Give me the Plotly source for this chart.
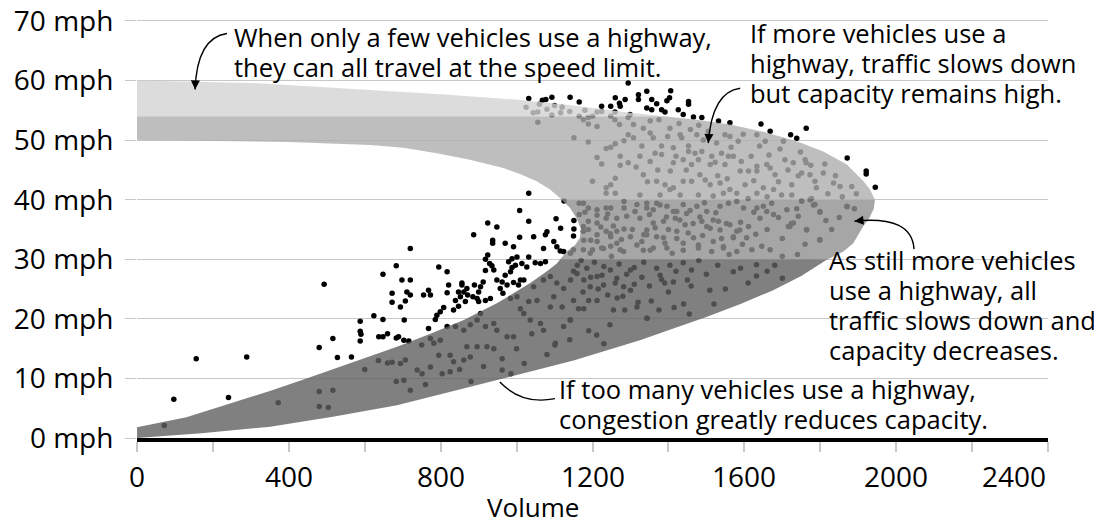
import plotly.graph_objects as go

# ---------------- data ----------------
speed_ticks = [0, 10, 20, 30, 40, 50, 60, 70]
volume_ticks = [0, 400, 800, 1200, 1600, 2000, 2400]
volume_labels = ["0", "400", "800", "1200", "1600", "2000", "2400"]
volume_minor = [0, 200, 400, 600, 800, 1000, 1200, 1400, 1600, 1800, 2000, 2200, 2400]

# outer edge of the speed-volume band (top-left -> nose -> bottom-left)
outer_volume = [0, 300, 614, 800, 1000, 1150, 1299, 1387, 1475, 1562, 1650, 1738, 1808,
                1870, 1914, 1931, 1944, 1941, 1930, 1913, 1887, 1861, 1817, 1750, 1676,
                1590, 1500, 1413, 1325, 1150, 948, 815, 685, 520, 351, 170, 0]
outer_speed = [60, 59.6, 58.4, 57.7, 56.8, 55.8, 54.6, 54.0, 53.4, 52.6, 51.4, 49.8, 48.1,
               45.9, 43.1, 41.7, 40.0, 38.5, 37.0, 35.5, 32.7, 31.3, 29.9, 27.2, 24.8,
               22.5, 20.3, 18.4, 16.4, 13.0, 9.7, 7.6, 5.5, 3.6, 1.9, 0.8, 0]
# inner edge (bottom-left -> tip -> top-left)
inner_volume = [0, 130, 241, 350, 456, 570, 685, 773, 861, 948, 1036, 1080, 1106, 1132,
                1154, 1167, 1169, 1158, 1141, 1114, 1088, 1053, 1009, 965, 877, 790, 702,
                614, 400, 200, 0]
inner_speed = [1.8, 3.5, 5.7, 7.9, 10.2, 12.7, 15.3, 17.5, 19.8, 22.6, 26.0, 28.0, 29.3, 31.3,
               32.4, 33.6, 35.2, 36.9, 38.6, 40.3, 41.7, 43.1, 44.3, 45.3, 46.7, 47.8, 48.7,
               49.2, 49.7, 49.9, 50]

band_limits = [0, 30, 40, 54, 60]
band_colors = ["rgba(96,96,96,0.8)", "rgba(144,144,144,0.8)",
               "rgba(174,174,174,0.8)", "rgba(211,211,211,0.8)"]

# observations outside the band (volume, mph)
outside_obs = [
    (97, 6.5), (156, 13.3), (241, 6.8), (289, 13.6), (493, 25.8), (480, 15.2), (516, 16.7),
    (528, 13.5), (565, 13.6), (588, 19.6), (588, 17.9), (590, 17.4), (588, 16.3), (624, 20.5),
    (648, 19.9), (637, 17.0), (648, 17.0), (660, 17.5), (648, 27.5), (672, 24.3), (672, 22.8),
    (683, 28.9), (683, 16.8),
    (720, 31.8), (887, 34.1), (937, 33.2), (937, 32.7), (970, 32.7), (992, 32.1), (1008, 33.7),
    (1045, 33.8), (1076, 34.1), (1080, 34.6), (1098, 33.0), (1106, 32.1), (1115, 31.4),
    (1124, 31.3), (1150, 33.9), (1071, 31.8), (1076, 29.6), (1063, 29.3), (1049, 29.4),
    (1032, 30.4), (1027, 28.7), (1014, 29.3), (1001, 30.4), (997, 29.0), (988, 30.1),
    (988, 28.6), (979, 29.6), (984, 27.9), (970, 27.3), (962, 26.2), (948, 26.5), (940, 28.2),
    (935, 28.9), (929, 29.3), (924, 30.7), (918, 30.0), (918, 28.1), (912, 26.2), (905, 25.4),
    (900, 24.5), (896, 23.4), (900, 22.9), (885, 23.7), (871, 24.0), (865, 22.9), (861, 24.5),
    (856, 26.0), (852, 23.7), (847, 24.5), (847, 22.1), (839, 23.1), (834, 21.5), (817, 27.9),
    (821, 25.7), (817, 24.4), (808, 21.9), (799, 21.2), (795, 28.7), (790, 20.6), (786, 19.9),
    (773, 24.0), (768, 24.8), (768, 18.4), (755, 24.0), (720, 26.5), (720, 24.0), (711, 24.5),
    (707, 23.0), (704, 19.8), (698, 26.5), (694, 22.0), (689, 17.0), (703, 16.4), (716, 16.3),
    (1010, 26.5), (1019, 26.5), (1005, 25.7), (992, 26.1), (975, 25.7), (957, 25.1), (964, 24.3),
    (931, 23.4), (918, 23.1), (889, 25.7), (869, 25.1), (856, 25.7),
    (1032, 41.1), (1008, 38.2), (924, 36.1), (948, 35.4), (1032, 36.4), (1104, 36.8),
    (1116, 35.2), (1151, 36.5), (1151, 35.1),
    (1032, 57.0), (1068, 56.7), (1077, 56.8), (1093, 57.2), (1141, 57.2), (1165, 56.4),
    (1224, 55.7), (1248, 55.7), (1260, 57.1), (1271, 56.2), (1273, 55.7), (1286, 56.8),
    (1294, 59.6),
    (1321, 57.6), (1343, 58.2), (1321, 56.8), (1356, 56.8), (1369, 56.1), (1396, 56.6),
    (1406, 58.3), (1403, 57.1), (1453, 56.5), (1453, 56.0), (1343, 55.4), (1356, 55.1),
    (1382, 55.1), (1391, 54.7), (1426, 55.1), (1439, 54.3), (1466, 53.9), (1488, 53.8),
    (1532, 53.2), (1562, 52.9), (1644, 52.7), (1668, 51.5), (1763, 52.0), (1738, 50.3),
    (1871, 47.0), (1921, 44.8), (1921, 44.3), (1945, 42.1),
]

# observations inside the band (volume, mph)
inside_obs = [
    (72, 2.1), (372, 5.9), (480, 7.8), (516, 8.0), (480, 5.3), (504, 5.1), (600, 11.5),
    (636, 13.0), (660, 12.6), (672, 12.7), (683, 9.5),
    (1177, 33.2), (1212, 34.1), (1247, 34.3), (1264, 32.7), (1300, 33.8), (1317, 32.4),
    (1335, 34.1), (1352, 31.5), (1142, 31.0), (1194, 31.0), (1229, 31.8), (1282, 31.3),
    (1071, 26.5), (1089, 27.1), (1106, 26.0), (1124, 25.1), (1142, 26.5), (1159, 27.6),
    (1177, 26.5), (1194, 25.4), (1212, 27.1), (1229, 25.7), (1247, 28.2), (1264, 26.8),
    (1282, 25.4), (1300, 28.2), (1317, 22.0), (1344, 20.1), (1212, 23.1), (1177, 21.7),
    (1142, 19.8), (1124, 18.7), (1102, 15.9), (1071, 18.1), (1063, 19.2), (1036, 19.8),
    (1019, 20.9), (1010, 21.7), (1001, 23.7), (984, 23.4), (1045, 25.4), (1054, 23.1),
    (1032, 22.9), (1089, 22.0), (1098, 23.7), (1150, 23.1), (1163, 21.7), (1190, 23.1),
    (1120, 22.0), (992, 17.0), (975, 17.0), (948, 18.1), (940, 19.2), (918, 18.7), (905, 20.9),
    (896, 19.8), (878, 19.0), (861, 18.1), (839, 18.7), (817, 18.7), (799, 16.4), (782, 15.9),
    (773, 16.7), (750, 15.6), (869, 15.3), (896, 15.3), (922, 15.3), (940, 15.0), (962, 13.3),
    (962, 11.4), (913, 12.0), (878, 13.6), (861, 13.1), (834, 12.8), (795, 13.9), (825, 13.9),
    (804, 10.8), (825, 11.1), (773, 11.9), (751, 10.8), (738, 11.4), (707, 13.1), (694, 12.5),
    (720, 8.0), (703, 9.7),
    (1044, 54.6), (1056, 54.7), (1093, 54.2), (1116, 54.6), (1056, 53.0), (1165, 54.0),
    (1176, 53.4), (1189, 53.8), (1200, 54.0), (1189, 52.7), (1212, 52.3), (1212, 54.7),
    (1224, 54.8), (1248, 54.0), (1259, 54.7), (1259, 53.4), (1271, 52.6), (1294, 53.8),
    (1151, 50.4), (1189, 49.7), (1236, 48.6), (1248, 48.8), (1260, 49.4), (1283, 49.9),
    (1294, 50.9), (1212, 47.1), (1224, 46.0), (1273, 47.3), (1273, 45.8), (1294, 46.2),
    (1200, 43.1), (1236, 42.0), (1260, 43.6), (1248, 42.5), (1236, 41.1), (1260, 41.1),
    (1125, 39.8), (1165, 39.4), (1176, 39.4), (1189, 38.6), (1212, 38.3), (1236, 38.6),
    (1248, 38.6), (1283, 39.7), (1165, 37.5), (1189, 36.4), (1212, 37.4), (1212, 36.1),
    (1236, 36.9), (1264, 36.9), (1283, 38.6), (1176, 35.5), (1176, 34.7), (1189, 35.0),
    (1236, 34.7), (1248, 33.8), (1264, 34.7), (1283, 35.1), (1212, 33.0), (1200, 31.6),
    (1224, 31.9), (1248, 32.2), (1176, 31.6), (1150, 31.6), (1273, 31.6),
    (1299, 54.3), (1308, 52.6), (1334, 52.0), (1352, 53.2), (1352, 51.2), (1360, 50.4),
    (1375, 53.4), (1382, 49.0), (1404, 52.0), (1413, 48.7), (1431, 50.9), (1435, 50.4),
    (1453, 49.0), (1453, 48.1), (1475, 50.9), (1488, 48.1), (1480, 52.5), (1514, 47.3),
    (1527, 49.5), (1549, 50.9), (1562, 50.6), (1558, 47.3), (1584, 49.8), (1633, 50.9),
    (1655, 49.8), (1703, 49.8), (1760, 46.7), (1763, 46.2), (1308, 50.4), (1325, 47.3),
    (1352, 46.4), (1382, 47.6), (1413, 46.2), (1439, 46.7), (1461, 45.9), (1479, 46.7),
    (1510, 45.9), (1523, 46.3), (1549, 45.9), (1571, 47.3), (1589, 44.8), (1611, 44.8),
    (1633, 45.6), (1633, 44.8), (1659, 45.9), (1668, 45.3), (1681, 44.2), (1707, 46.7),
    (1729, 46.2), (1751, 44.5), (1773, 44.2), (1786, 43.1), (1808, 44.5), (1835, 42.8),
    (1852, 42.2), (1883, 42.2), (1334, 44.2), (1369, 43.1), (1391, 42.5), (1413, 42.0),
    (1439, 43.1), (1461, 43.1), (1483, 44.2), (1510, 42.5), (1536, 42.8), (1562, 41.7),
    (1580, 41.1), (1602, 42.5), (1633, 41.1), (1650, 42.0), (1677, 41.7), (1698, 40.8),
    (1725, 42.5), (1725, 40.8), (1325, 40.8), (1378, 40.8), (1404, 41.7), (1431, 40.8),
    (1479, 40.8), (1518, 40.6), (1545, 41.1),
    (1317, 39.2), (1343, 38.6), (1369, 39.4), (1396, 38.9), (1422, 38.0), (1439, 39.2),
    (1475, 38.9), (1501, 38.0), (1536, 38.9), (1558, 39.4), (1580, 39.7), (1598, 38.6),
    (1633, 38.6), (1650, 38.9), (1672, 39.4), (1677, 37.5), (1712, 38.3), (1738, 38.5),
    (1751, 39.8), (1773, 40.0), (1786, 39.2), (1799, 38.0), (1870, 38.9), (1325, 36.9),
    (1360, 36.1), (1387, 36.4), (1418, 36.9), (1444, 35.8), (1488, 36.4), (1510, 35.2),
    (1532, 36.4), (1562, 35.8), (1580, 34.7), (1611, 35.5), (1641, 36.9), (1659, 38.0),
    (1720, 35.5), (1729, 36.1), (1764, 35.0), (1799, 33.3), (1343, 34.1), (1387, 33.6),
    (1422, 34.7), (1466, 33.6), (1479, 31.9), (1518, 33.0), (1545, 31.9), (1571, 33.6),
    (1606, 33.6), (1620, 31.6), (1646, 32.2), (1360, 31.9), (1396, 31.9), (1439, 32.7),
    (1369, 28.5), (1378, 27.3), (1382, 26.6), (1404, 29.0), (1413, 26.2), (1439, 29.4),
    (1461, 28.2), (1509, 24.8), (1571, 27.9), (1632, 29.1), (1632, 27.2), (1415, 21.9),
    (1343, 20.1), (1246, 19.0), (1211, 17.3), (1141, 19.8), (1101, 15.6),
    (1871, 38.8), (1799, 37.9), (1764, 34.9), (1799, 33.2), (1724, 36.0), (1716, 35.5),
    (1751, 39.8), (1777, 40.2), (1782, 39.1),
    (1343, 39.4), (1360, 38.3), (1378, 39.1), (1395, 37.1), (1413, 38.0), (1430, 36.6),
    (1448, 37.7), (1465, 36.0), (1483, 37.1), (1501, 35.5), (1518, 36.6), (1536, 34.9),
    (1553, 36.0), (1571, 33.8), (1588, 34.9), (1343, 34.9), (1369, 33.8), (1391, 32.7),
    (1422, 33.5), (1439, 31.5), (1479, 32.4), (1514, 31.3), (1545, 32.1), (1580, 31.3),
    (1334, 31.5),
    (1160, 29.0), (1185, 28.5), (1205, 29.5), (1230, 28.8), (1250, 30.5), (1270, 29.2),
    (1290, 27.5), (1310, 28.6), (1330, 27.0), (1195, 27.0), (1175, 24.5), (1215, 25.0),
    (1240, 24.0), (1265, 23.5), (1300, 24.8), (1320, 22.8), (1150, 28.0), (1260, 26.0),
    (1285, 21.5), (1355, 23.0), (1400, 24.5), (1440, 22.5), (1460, 25.5), (1390, 26.0),
    (1315, 45.5), (1330, 49.0), (1345, 43.0), (1365, 47.8), (1372, 45.0), (1398, 50.6),
    (1405, 44.8), (1420, 47.3), (1428, 52.8), (1447, 45.0), (1458, 51.8), (1470, 47.8),
    (1492, 50.0), (1497, 43.3), (1505, 51.5), (1530, 44.0), (1540, 47.8), (1555, 43.5),
    (1565, 48.8), (1592, 46.4), (1597, 51.0), (1618, 47.3), (1625, 43.2), (1640, 49.0),
    (1665, 47.5), (1690, 43.0), (1694, 48.5), (1715, 45.0), (1722, 50.9), (1742, 44.0),
    (1748, 48.0), (1775, 45.8), (1790, 42.0), (1812, 46.0), (1820, 41.0), (1840, 44.0),
    (1858, 40.5), (1895, 41.0), (1610, 40.2), (1660, 40.5),
    (1180, 37.9), (1195, 33.2), (1222, 35.4), (1240, 37.6), (1255, 35.6), (1276, 33.3),
    (1290, 37.2), (1305, 35.0), (1312, 38.0), (1330, 33.0), (1350, 37.5), (1365, 35.3),
    (1400, 35.0), (1410, 31.0), (1452, 34.4), (1457, 38.2), (1490, 34.0), (1495, 39.5),
    (1525, 37.8), (1540, 33.5), (1560, 30.8), (1590, 36.2), (1595, 32.5), (1625, 37.9),
    (1630, 34.2), (1660, 35.0), (1668, 31.6), (1690, 37.0), (1700, 33.5), (1742, 37.2),
    (1760, 32.5), (1815, 36.5), (1830, 35.0), (1850, 37.0), (1890, 38.5), (1700, 30.5),
    (1740, 30.8), (1680, 29.0),
    (1170, 29.8), (1225, 27.3), (1255, 21.5), (1280, 23.8), (1310, 25.8), (1335, 29.5),
    (1350, 25.5), (1375, 21.5), (1420, 28.0), (1450, 26.5), (1480, 29.8), (1500, 27.5),
    (1530, 29.0), (1550, 25.0), (1590, 28.5), (1610, 26.0), (1660, 28.0), (1700, 26.8),
    (1455, 20.8), (1520, 22.5),
    (1000, 15.0), (1040, 17.5), (1080, 14.0), (1140, 16.5), (1190, 18.0), (1230, 15.8),
    (1020, 12.5), (985, 10.8), (880, 9.5), (850, 11.5), (760, 9.0),
    (1025, 55.5), (1060, 56.0), (1100, 55.8), (1080, 55.2), (1120, 55.5), (1140, 54.8),
    (1180, 55.0),
]

# annotation lines, anchor of first line (volume, mph)
notes = [
    (["When only a few vehicles use a highway,", "they can all travel at the speed limit."],
     250, 67.3),
    (["If more vehicles use a", "highway, traffic slows down", "but capacity remains high."],
     1610, 67.9),
    (["As still more vehicles", "use a highway, all", "traffic slows down and",
      "capacity decreases."], 1818, 29.9),
    (["If too many vehicles use a highway,", "congestion greatly reduces capacity."],
     1106, 8.3),
]
line_gap = 30
# curved arrows: start, control, tip (volume, mph)
arrows = [
    ((237, 67.9), (158, 67.2), (153, 58.5)),
    ((1589, 58.7), (1515, 58.1), (1505, 49.5)),
    ((2047, 31.7), (2042, 37.4), (1890, 36.4)),
    ((1101, 6.6), (1014, 5.5), (956, 9.4)),
]

FONT = "Open Sans"

# ---------------- build figure ----------------
band_x = outer_volume + inner_volume
band_y = outer_speed + inner_speed


def clip_strip(xs, ys, lo, hi):
    pts = list(zip(xs, ys))

    def clip(points, keep, c):
        out = []
        n = len(points)
        for i in range(n):
            p = points[i]
            q = points[(i + 1) % n]
            pin, qin = keep(p[1]), keep(q[1])
            if pin:
                out.append(p)
            if pin != qin:
                t = (c - p[1]) / (q[1] - p[1])
                out.append((p[0] + t * (q[0] - p[0]), c))
        return out

    pts = clip(pts, lambda y: y >= lo, lo)
    pts = clip(pts, lambda y: y <= hi, hi)
    return [p[0] for p in pts], [p[1] for p in pts]


fig = go.Figure()

obs = outside_obs + inside_obs
fig.add_trace(go.Scatter(
    x=[o[0] for o in obs], y=[o[1] for o in obs], mode="markers",
    marker=dict(color="black", size=5.5, line=dict(width=0)),
    hoverinfo="skip", cliponaxis=False))

for i, color in enumerate(band_colors):
    sx, sy = clip_strip(band_x, band_y, band_limits[i], band_limits[i + 1])
    fig.add_trace(go.Scatter(
        x=sx + [sx[0]], y=sy + [sy[0]], mode="lines", fill="toself",
        fillcolor=color, line=dict(width=0), hoverinfo="skip"))

shapes = []
annotations = []
for (s, c, t) in arrows:
    shapes.append(dict(type="path", xref="x", yref="y",
                       path=f"M {s[0]},{s[1]} Q {c[0]},{c[1]} {t[0]},{t[1]}",
                       line=dict(color="black", width=1.4)))
    frac = 0.12
    annotations.append(dict(
        x=t[0], y=t[1], ax=t[0] + frac * (c[0] - t[0]), ay=t[1] + frac * (c[1] - t[1]),
        xref="x", yref="y", axref="x", ayref="y", text="", showarrow=True,
        arrowhead=2, arrowsize=1.3, arrowwidth=1.4, arrowcolor="black", standoff=0))

for lines, vx, vy in notes:
    for k, line in enumerate(lines):
        annotations.append(dict(
            x=vx, y=vy, xref="x", yref="y", text=line, showarrow=False,
            xanchor="left", yanchor="middle", yshift=-k * line_gap,
            font=dict(family=FONT, size=25.5, color="black")))

for v, lab in zip(volume_ticks, volume_labels):
    annotations.append(dict(
        x=v, y=0, xref="x", yref="y", text=lab, showarrow=False,
        xanchor="right" if v == volume_ticks[-1] else "center", yanchor="middle",
        yshift=-38, font=dict(family=FONT, size=28, color="black")))

annotations.append(dict(
    x=1043, y=0, xref="x", yref="y", text="Volume", showarrow=False,
    xanchor="center", yanchor="middle", yshift=-69,
    font=dict(family=FONT, size=26, color="black")))

fig.update_layout(
    width=1094, height=517,
    margin=dict(l=129, r=54, t=7.35, b=87.2, autoexpand=False),
    paper_bgcolor="white", plot_bgcolor="white",
    showlegend=False,
    shapes=shapes, annotations=annotations,
    font=dict(family=FONT, color="black"),
    xaxis=dict(range=[0, 2400], tickvals=volume_minor, showticklabels=False,
               ticks="outside", ticklen=10, tickcolor="#c8c8c8", tickwidth=1.5,
               showgrid=False, zeroline=False, automargin=False,
               showline=True, linecolor="black", linewidth=4),
    yaxis=dict(range=[0, 71], tickvals=speed_ticks,
               ticktext=[f"{v} mph" for v in speed_ticks],
               ticks="outside", ticklen=11, tickcolor="#c8c8c8", tickwidth=1,
               showgrid=True, gridcolor="#c8c8c8", gridwidth=1, automargin=False,
               zeroline=False, showline=False, ticklabelstandoff=6,
               ticklabeloverflow="allow",
               tickfont=dict(family=FONT, size=28, color="black")),
)

fig.write_html("out.html")
